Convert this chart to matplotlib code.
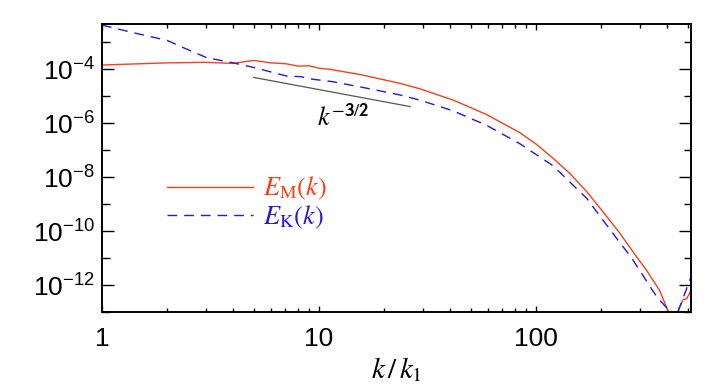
import matplotlib
matplotlib.use("Agg")
import matplotlib.pyplot as plt
from matplotlib.ticker import FixedLocator, FuncFormatter, LogLocator, NullFormatter
import numpy as np

# magnetic spectrum E_M(k), log10 values
k_m = [1, 2, 3, 4, 5, 6, 7, 8, 9, 10, 11.2, 15.4, 23.6, 29.1, 41.5, 59.3,
       84.3, 100, 120, 144, 171, 203, 243, 290, 323, 371, 405, 420, 440,
       455, 475, 495, 518]
logE_m = [-3.84, -3.76, -3.74, -3.78, -3.67, -3.76, -3.79, -3.88, -3.87,
          -3.96, -4.00, -4.19, -4.52, -4.72, -5.14, -5.68, -6.35, -6.77,
          -7.30, -7.88, -8.53, -9.27, -10.07, -10.94, -11.45, -12.20, -12.94,
          -13.4, -13.5, -12.9, -12.55, -12.5, -12.2]

# kinetic spectrum E_K(k)
k_k = [1, 1.39, 2, 2.36, 3.04, 4.02, 5, 7.1, 8.2, 9.4, 11.6, 16.6, 23.6,
       29.1, 41.5, 59.3, 84.3, 120, 171, 243, 273, 359, 414, 440, 450, 518]
logE_k = [-2.36, -2.64, -2.93, -3.19, -3.57, -3.76, -3.93, -4.25, -4.27,
          -4.37, -4.46, -4.70, -4.95, -5.14, -5.54, -6.08, -6.76, -7.58,
          -8.78, -10.42, -10.94, -12.42, -12.98, -13.3, -13.0, -11.7]

# reference slope k^{-3/2}
k_ref = [5, 26.3]
slope = -1.5
amp = 5.6e-4

red = '#ff3c14'
blue = '#2a14e6'

plt.rcParams['font.family'] = ['Liberation Sans', 'DejaVu Sans']
plt.rcParams['mathtext.fontset'] = 'stix'

fig = plt.figure(figsize=(7.06, 3.92), dpi=100)
ax = fig.add_axes([0.1445, 0.204, 0.8343, 0.7348])

ax.plot(k_m, 10.0 ** np.array(logE_m), color=red, lw=1.0,
        label=r'$E_{\mathrm{M}}(k)$')
ax.plot(k_k, 10.0 ** np.array(logE_k), color=blue, lw=1.0, dashes=(7, 5),
        label=r'$E_{\mathrm{K}}(k)$')
ref = amp * np.array(k_ref) ** slope
ax.plot(k_ref, ref, color='#555555', lw=0.9)

ax.set_xscale('log')
ax.set_yscale('log')
ax.set_xlim(1, 518)
ax.set_ylim(1e-13, 4.8e-3)

ax.yaxis.set_major_locator(FixedLocator([10.0 ** e for e in range(-12, -3, 2)]))
ax.yaxis.set_minor_locator(FixedLocator([10.0 ** e for e in range(-13, -2, 2)]))
ax.yaxis.set_major_formatter(FuncFormatter(
    lambda v, p: r'$\mathregular{10^{%d}}$' % round(np.log10(v))))
ax.yaxis.set_minor_formatter(NullFormatter())

ax.xaxis.set_major_locator(FixedLocator([1, 10, 100]))
ax.xaxis.set_minor_locator(LogLocator(base=10, subs=np.arange(2, 10), numticks=20))
ax.xaxis.set_major_formatter(FuncFormatter(lambda v, p: '%d' % v))
ax.xaxis.set_minor_formatter(NullFormatter())

ax.tick_params(which='both', direction='in', top=True, right=True, width=1.0)
ax.tick_params(axis='y', which='major', length=8.6, labelsize=19, pad=5)
ax.tick_params(axis='y', which='minor', length=5.4)
ax.tick_params(axis='x', which='major', length=4.3, labelsize=19, pad=11)
ax.tick_params(axis='x', which='minor', length=2.9)
for s in ax.spines.values():
    s.set_linewidth(1.4)

ax.set_xlabel(r'$k\,/\,k_1$', fontsize=21, labelpad=3)

ax.text(9.8, 10 ** -5.77, r'$k^{\mathbf{\mathsf{-3/2}}}$', fontsize=19,
        ha='left', va='center')

ax.legend(loc='center left', bbox_to_anchor=(0.110, 0.378), frameon=False,
          fontsize=19, handlelength=3.25, handletextpad=0.4, labelspacing=0.05,
          borderpad=0, borderaxespad=0, labelcolor=[red, blue])

fig.savefig('out.png', dpi=100)
